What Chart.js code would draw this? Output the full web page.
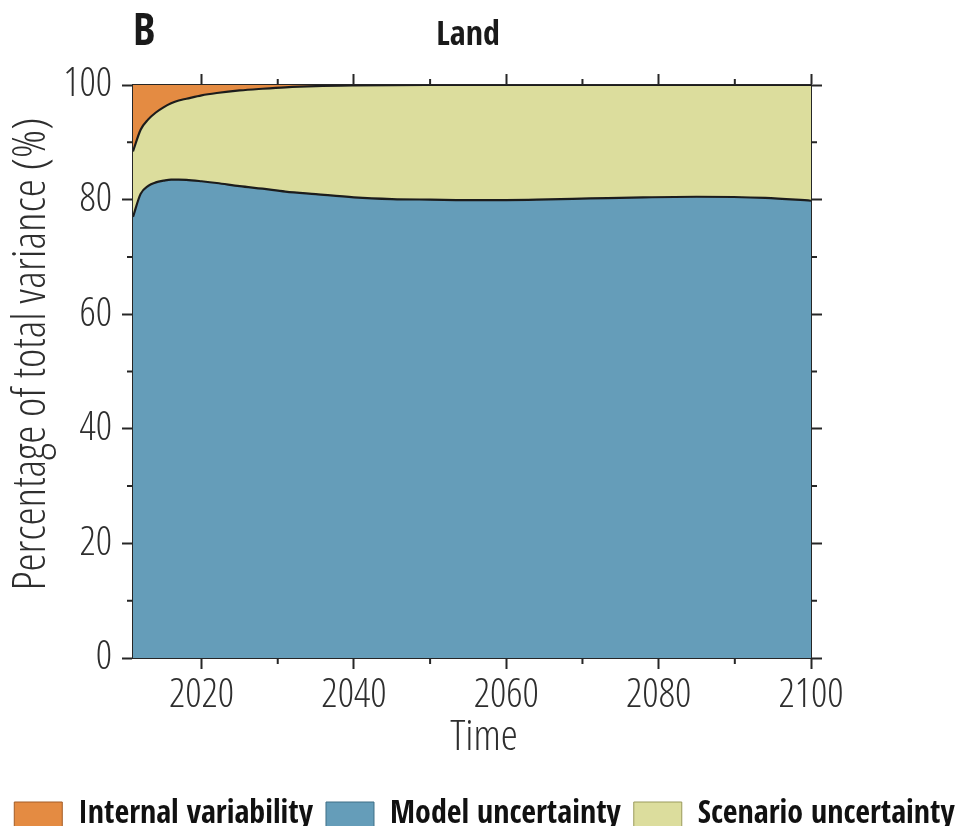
<!DOCTYPE html>
<html>
<head>
<meta charset="utf-8">
<title>Land – variance partition</title>
<script src="https://cdn.jsdelivr.net/npm/chart.js@4.4.1/dist/chart.umd.min.js"></script>
<style>
  html, body { margin: 0; padding: 0; overflow: hidden; background: #ffffff; }
  canvas { display: block; }
</style>
</head>
<body>
<canvas id="chart" width="969" height="841"></canvas>
<script>
// Share of total projection variance (%) over land, by source
const years = [2011, 2012, 2013, 2014, 2015, 2016, 2017, 2018, 2020, 2022, 2025, 2028,
               2031, 2035, 2040, 2045, 2050, 2057, 2064, 2071, 2078, 2085, 2094, 2100];
const modelUncertainty = [77.0, 81.0, 82.4, 83.0, 83.3, 83.5, 83.5, 83.45, 83.2, 82.9, 82.35, 81.9,
                          81.4, 80.95, 80.4, 80.1, 80.0, 79.9, 80.0, 80.2, 80.4, 80.5, 80.3, 79.8];
const scenarioUncertainty = [11.4, 11.2, 11.6, 12.2, 12.8, 13.3, 13.8, 14.15, 15.0, 15.7, 16.7, 17.45,
                             18.2, 18.85, 19.52, 19.88, 20.0, 20.1, 20.0, 19.8, 19.6, 19.5, 19.7, 20.2];
const internalVariability = [11.6, 7.8, 6.0, 4.8, 3.9, 3.2, 2.7, 2.4, 1.8, 1.4, 0.95, 0.65,
                             0.4, 0.2, 0.08, 0.02, 0, 0, 0, 0, 0, 0, 0, 0];

const seriesLabels = ['Model uncertainty', 'Scenario uncertainty', 'Internal variability'];
const xTickValues = [2020, 2040, 2060, 2080, 2100];
const xMinorTicks = [2030, 2050, 2070, 2090];
const yTickValues = [0, 20, 40, 60, 80, 100];
const yMinorTicks = [10, 30, 50, 70, 90];
const panelLetter = 'B';
const panelTitle = 'Land';
const xTitle = 'Time';
const yTitle = 'Percentage of total variance (%)';

// light condensed face for numbers and axis titles, bold condensed for headings
const LIGHT_FAMILY = "'Open Sans', 'DejaVu Sans Condensed', sans-serif";
const LIGHT_WEIGHT = '300 condensed';
const BOLD_FAMILY = "'Open Sans Condensed', 'Roboto Condensed', sans-serif";
const INK = '#262626';
const TEXT = '#2e2e2e';
const FILL = { model: '#659DB9', scenario: '#DCDD9D', internal: '#E48B42' };
const EDGE = { model: '#3f6f86', scenario: '#9a9b5c', internal: '#a35d26' };

// stacked boundaries: model at the bottom, scenario above it, internal variability on top
const modelTop = modelUncertainty.slice();
const scenarioTop = modelTop.map((v, i) => v + scenarioUncertainty[i]);
const internalTop = scenarioTop.map((v, i) => v + internalVariability[i]);
const pts = arr => years.map((yr, i) => ({ x: yr, y: arr[i] }));

const frameAxis = (pos, extra) => Object.assign({
  type: 'linear',
  position: pos,
  grid: { display: true, drawOnChartArea: false, drawTicks: true, tickLength: 11, tickWidth: 2, tickColor: INK },
  border: { display: true, width: 2, color: INK }
}, extra);

// short ticks between the labelled ones, on all four sides
const minorTicks = {
  id: 'minorTicks',
  afterDraw(chart) {
    const { ctx, chartArea: a, scales } = chart;
    ctx.save();
    ctx.strokeStyle = INK;
    ctx.lineWidth = 2;
    ctx.beginPath();
    xMinorTicks.forEach(v => {
      const px = scales.x.getPixelForValue(v);
      ctx.moveTo(px, a.bottom); ctx.lineTo(px, a.bottom + 6);
      ctx.moveTo(px, a.top); ctx.lineTo(px, a.top - 6);
    });
    yMinorTicks.forEach(v => {
      const py = scales.y.getPixelForValue(v);
      ctx.moveTo(a.left, py); ctx.lineTo(a.left - 6, py);
      ctx.moveTo(a.right, py); ctx.lineTo(a.right + 6, py);
    });
    ctx.stroke();
    ctx.restore();
  }
};

// panel letter, panel title and axis titles
const panelText = {
  id: 'panelText',
  afterDraw(chart) {
    const { ctx, chartArea: a } = chart;
    ctx.save();
    ctx.fillStyle = '#1a1a1a';
    ctx.textBaseline = 'alphabetic';
    ctx.textAlign = 'left';
    ctx.font = `bold 44px ${BOLD_FAMILY}`;
    ctx.fillText(panelLetter, a.left, 45);
    ctx.textAlign = 'center';
    ctx.font = `bold 34px ${BOLD_FAMILY}`;
    ctx.fillText(panelTitle, 468, 45);

    ctx.fillStyle = TEXT;
    ctx.font = `${LIGHT_WEIGHT} 43px ${LIGHT_FAMILY}`;
    ctx.fillText(xTitle, 484, 750);
    ctx.translate(32, 354);
    ctx.rotate(-Math.PI / 2);
    ctx.textBaseline = 'middle';
    ctx.font = `${LIGHT_WEIGHT} 46px ${LIGHT_FAMILY}`;
    ctx.fillText(yTitle, 0, 0);
    ctx.restore();
  }
};

new Chart(document.getElementById('chart'), {
  type: 'line',
  data: {
    datasets: [
      {
        label: seriesLabels[0],
        data: pts(modelTop),
        backgroundColor: FILL.model,
        borderColor: '#1c1c1c',
        borderWidth: 2.2,
        fill: 'origin'
      },
      {
        label: seriesLabels[1],
        data: pts(scenarioTop),
        backgroundColor: FILL.scenario,
        borderColor: '#1c1c1c',
        borderWidth: 2.2,
        fill: '-1'
      },
      {
        label: seriesLabels[2],
        data: pts(internalTop),
        backgroundColor: FILL.internal,
        borderColor: 'rgba(0,0,0,0)',
        borderWidth: 0,
        fill: '-1'
      }
    ]
  },
  options: {
    responsive: false,
    animation: false,
    devicePixelRatio: 1,
    layout: { padding: 0 },
    elements: {
      point: { radius: 0, hoverRadius: 0 },
      line: { cubicInterpolationMode: 'monotone' }
    },
    scales: {
      x: frameAxis('bottom', {
        min: 2011, max: 2100,
        afterBuildTicks: s => { s.ticks = xTickValues.map(v => ({ value: v })); },
        afterFit: s => { s.height = 128; },
        ticks: {
          display: true, padding: 3, color: TEXT, maxRotation: 0,
          font: { family: LIGHT_FAMILY, weight: LIGHT_WEIGHT, size: 40 },
          callback: v => String(v)
        }
      }),
      x2: frameAxis('top', {
        min: 2011, max: 2100,
        afterBuildTicks: s => { s.ticks = xTickValues.map(v => ({ value: v })); },
        afterFit: s => { s.height = 85; },
        ticks: { display: false }
      }),
      y: frameAxis('left', {
        min: 0, max: 100,
        afterBuildTicks: s => { s.ticks = yTickValues.map(v => ({ value: v })); },
        afterFit: s => { s.width = 133; },
        ticks: {
          display: true, padding: 10, color: TEXT,
          font: { family: LIGHT_FAMILY, weight: LIGHT_WEIGHT, size: 40 },
          callback: v => String(v)
        }
      }),
      y2: frameAxis('right', {
        min: 0, max: 100,
        afterBuildTicks: s => { s.ticks = yTickValues.map(v => ({ value: v })); },
        afterFit: s => { s.width = 158; },
        ticks: { display: false }
      })
    },
    plugins: {
      legend: {
        display: true,
        position: 'bottom',
        align: 'center',
        labels: {
          boxWidth: 48,
          boxHeight: 26,
          padding: 13,
          color: '#111111',
          font: { family: BOLD_FAMILY, size: 32, weight: 'bold' },
          generateLabels: chart => [2, 0, 1].map(i => {
            const ds = chart.data.datasets[i];
            const key = ['model', 'scenario', 'internal'][i];
            return {
              text: ds.label,
              fillStyle: FILL[key],
              strokeStyle: EDGE[key],
              lineWidth: 1,
              hidden: false,
              datasetIndex: i,
              fontColor: '#111111'
            };
          })
        }
      },
      title: { display: false },
      tooltip: { enabled: false }
    }
  },
  plugins: [minorTicks, panelText]
});
</script>
</body>
</html>
